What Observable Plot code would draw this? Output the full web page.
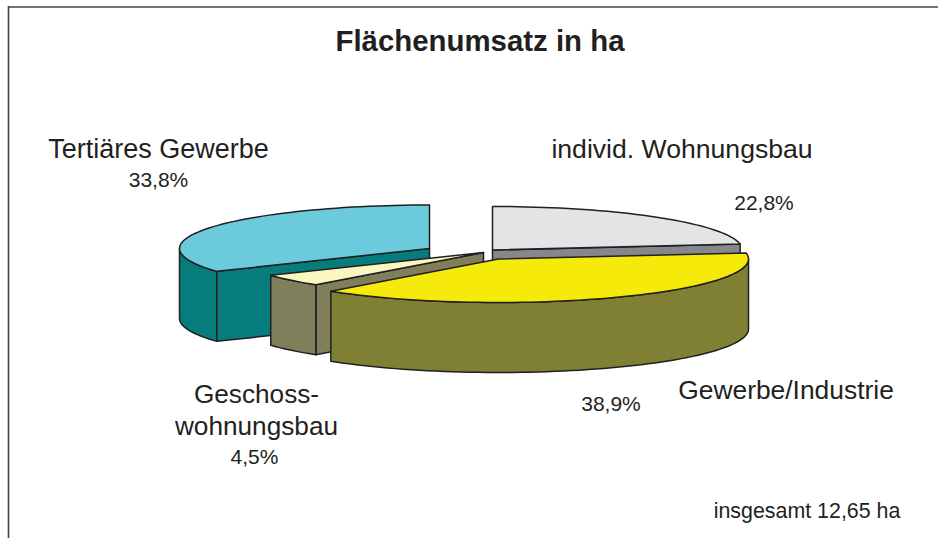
<!DOCTYPE html>
<html><head><meta charset="utf-8">
<script src="https://cdn.jsdelivr.net/npm/d3@7"></script>
<script src="https://cdn.jsdelivr.net/npm/@observablehq/plot@0.6"></script>
<style>html,body{margin:0;padding:0;background:#fff}svg{display:block}</style>
</head><body><div id="chart"></div>
<script>
// Data
const categories = ["individ. Wohnungsbau", "Gewerbe/Industrie", "Geschoss-\nwohnungsbau", "Tertiäres Gewerbe"];
const shares = [22.8, 38.9, 4.5, 33.8];
const shareLabels = ["22,8%", "38,9%", "4,5%", "33,8%"];
const title = "Flächenumsatz in ha";
const note = "insgesamt 12,65 ha";

// Colours per slice
const topColors = ["#e3e4e6", "#f5ea0a", "#fbf7c0", "#6bcbdc"];
const sideColors = ["#85878a", "#7f8034", "#7f7f5c", "#077c7c"];

// Pie layout (pixel space)
const rx = 250, ry = 43.5, depth = 70;
const centres = [[492, 249.5], [498, 258.5], [483, 252], [429, 248]];
const ink = "#231f20";

const rad = d => d * Math.PI / 180;
const total = d3.sum(shares);
let acc = 0;
const slices = shares.map((v, i) => {
  const a0 = acc / total * 360; acc += v; const a1 = acc / total * 360;
  const [cx, cy] = centres[i];
  return {i, a0, a1, cx, cy};
});
const pt = (s, a, dz = 0) => ({x: s.cx + rx * Math.sin(rad(a)), y: s.cy - ry * Math.cos(rad(a)) + dz});
const arc = (s, a0, a1, dz = 0) => {
  const n = Math.max(2, Math.ceil(Math.abs(a1 - a0) / 2));
  return d3.range(n + 1).map(k => pt(s, a0 + (a1 - a0) * k / n, dz));
};
const close = p => [...p, p[0]];
const topFace = s => close([{x: s.cx, y: s.cy}, ...arc(s, s.a0, s.a1)]);
const wall = (s, a0, a1) => close([...arc(s, a0, a1), ...arc(s, a1, a0, depth)]);
const radial = (s, a) => close([{x: s.cx, y: s.cy}, pt(s, a), pt(s, a, depth), {x: s.cx, y: s.cy + depth}]);

const [gray, yellow, flats, teal] = slices;
const poly = (p, fill) => Plot.line(p, {x: "x", y: "y", fill, stroke: ink, strokeWidth: 1.5, curve: "linear", strokeLinejoin: "round"});
const pieMarks = [
  poly(radial(gray, gray.a1), sideColors[0]), poly(topFace(gray), topColors[0]),
  poly(wall(teal, teal.a0, 270), sideColors[3]), poly(radial(teal, teal.a0), sideColors[3]), poly(topFace(teal), topColors[3]),
  poly(radial(flats, flats.a0), sideColors[2]), poly(wall(flats, flats.a0, flats.a1), sideColors[2]), poly(topFace(flats), topColors[2]),
  poly(wall(yellow, 90, yellow.a1), sideColors[1]), poly(topFace(yellow), topColors[1])
];

// Label placement
const font = "Liberation Sans, Arial, sans-serif";
const labels = [
  {text: categories[3], x: 158, y: 147, size: 27},
  {text: shareLabels[3], x: 158, y: 178.5, size: 21},
  {text: categories[0], x: 681.5, y: 147, size: 26.6},
  {text: shareLabels[0], x: 763.5, y: 201.5, size: 21},
  {text: categories[1], x: 785.5, y: 388, size: 26.4},
  {text: shareLabels[1], x: 610.5, y: 402.5, size: 21},
  {text: categories[2], x: 256, y: 408, size: 26.2},
  {text: shareLabels[2], x: 254, y: 455.5, size: 21},
  {text: note, x: 806.5, y: 509, size: 21.4}
];

const chart = Plot.plot({
  width: 938, height: 538, margin: 0,
  x: {domain: [0, 938], range: [0, 938], axis: null},
  y: {domain: [0, 538], range: [0, 538], axis: null},
  style: {background: "#fff", fontFamily: font},
  marks: [
    Plot.ruleY([6.5], {x1: 8, x2: 938, stroke: "#444", strokeWidth: 1.6}),
    Plot.ruleX([8], {y1: 6, y2: 538, stroke: "#444", strokeWidth: 1.6}),
    ...pieMarks,
    Plot.text([title], {x: 479.5, y: 41, text: d => d, fontSize: 29.4, fontWeight: "bold", fill: ink}),
    ...labels.map(l => Plot.text([l], {x: "x", y: "y", text: "text", fontSize: l.size, fill: ink, lineHeight: 1.25}))
  ]
});
document.getElementById("chart").append(chart);
</script></body></html>
